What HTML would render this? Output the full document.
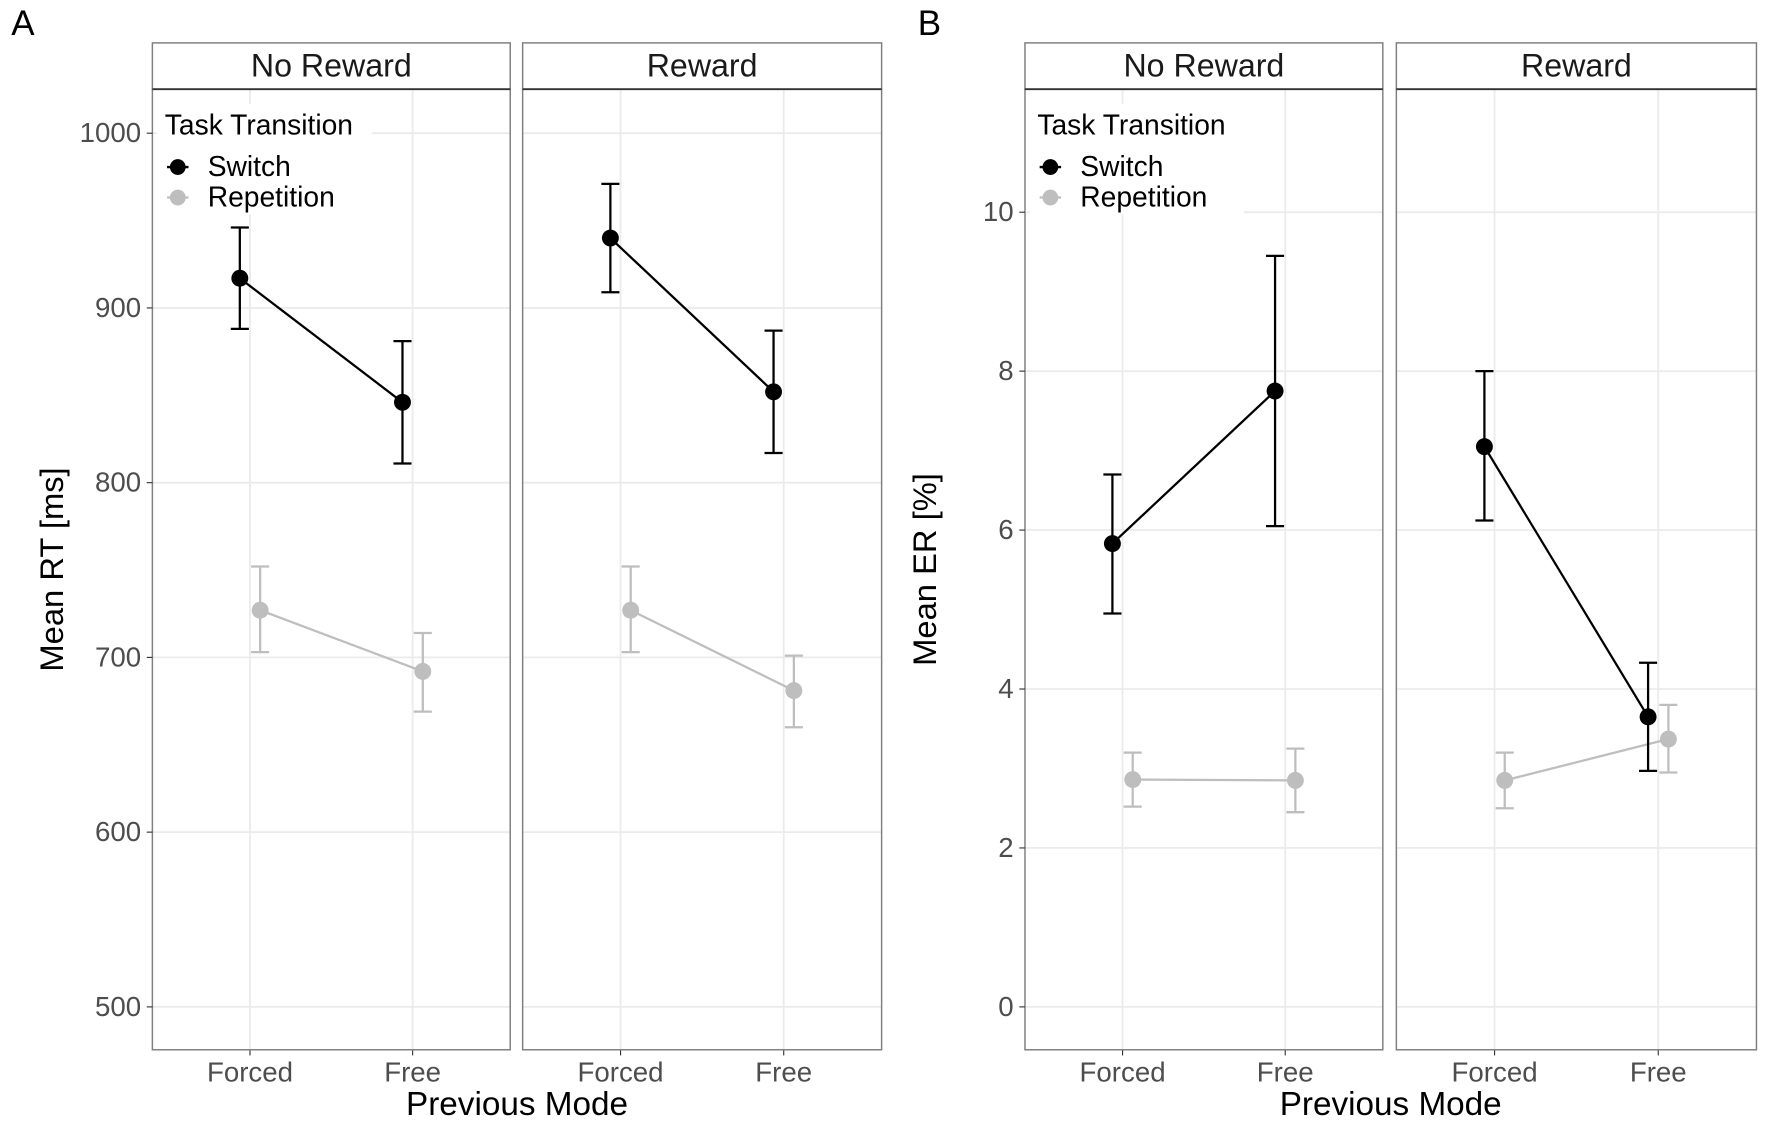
<!DOCTYPE html>
<html><head><meta charset="utf-8"><style>
html,body{margin:0;padding:0;background:#fff}
svg{display:block;font-family:"Liberation Sans",sans-serif}
</style></head><body>
<svg id="fig" width="1770" height="1128" viewBox="0 0 1568 999.3" preserveAspectRatio="none" xmlns="http://www.w3.org/2000/svg"></svg>
<script>
// ---- Data ----
const facets = ["No Reward", "Reward"];
const modes = ["Forced", "Free"];
const series = ["Switch", "Repetition"];
// RT (panel A): [facet][mode]
const rtSwitch = [[917, 846], [940, 852]];
const rtSwitchLo = [[888, 811], [909, 817]];
const rtSwitchHi = [[946, 881], [971, 887]];
const rtRep = [[727, 692], [727, 681]];
const rtRepLo = [[703, 669], [703, 660]];
const rtRepHi = [[752, 714], [752, 701]];
const rtTicks = [500, 600, 700, 800, 900, 1000];
// ER (panel B)
const erSwitch = [[5.83, 7.75], [7.05, 3.65]];
const erSwitchLo = [[4.95, 6.05], [6.12, 2.97]];
const erSwitchHi = [[6.70, 9.45], [8.00, 4.33]];
const erRep = [[2.86, 2.85], [2.85, 3.37]];
const erRepLo = [[2.52, 2.45], [2.50, 2.95]];
const erRepHi = [[3.20, 3.25], [3.20, 3.80]];
const erTicks = [0, 2, 4, 6, 8, 10];

const NS = "http://www.w3.org/2000/svg";
const svg = document.getElementById("fig");
function el(tag, attrs, parent, text) {
  const e = document.createElementNS(NS, tag);
  for (const k in attrs) e.setAttribute(k, attrs[k]);
  if (text !== undefined) e.textContent = text;
  (parent || svg).appendChild(e);
  return e;
}

function drawChart(cfg) {
  const g = el("g", {});
  
  
  const top = 79, bottom = 930, stripTop = 38;
  const y = v => cfg.y0 + (v - cfg.v0) * cfg.k;
  const t = el("text", {x: cfg.labelX, y: 31, "font-size": 31, fill: "#000"}, g, cfg.label);
  
  
  cfg.panels.forEach((px, fi) => {
    const w = px[1] - px[0];
    const xc = i => px[0] + w * (0.6 + i) / 2.2;
    cfg.ticks.forEach(tv => {
      const gl = el("line", {x1: px[0], x2: px[1], y1: y(tv), y2: y(tv), stroke: "#ebebeb", "stroke-width": 1.6}, g);
      
      
    });
    modes.forEach((m, i) => {
      const gl = el("line", {x1: xc(i), x2: xc(i), y1: top, y2: bottom, stroke: "#ebebeb", "stroke-width": 1.6}, g);
      
      
      const tl = el("text", {x: xc(i), y: 958, "font-size": 24.5, fill: "#4d4d4d", "text-anchor": "middle"}, g, m);
      
      
      const tk = el("line", {x1: xc(i), x2: xc(i), y1: bottom, y2: bottom + 5, stroke: "#333", "stroke-width": 1}, g);
      
      
    });
    if (fi === 0) {
      const lb = el("rect", {x: px[0] + 4, y: 92, width: cfg.legendW, height: 98, fill: "#fff"}, g);
      
      
      const lt = el("text", {x: px[0] + 11, y: 119, "font-size": 25, fill: "#000"}, g, "Task Transition");
      
      
      series.forEach((s, si) => {
        const yy = 148 + si * 27;
        const col = si === 0 ? "#000" : "#bebebe";
        const le = el("g", {}, g);
        
        
        el("line", {x1: px[0] + 13, x2: px[0] + 32, y1: yy, y2: yy, stroke: col, "stroke-width": 2}, le);
        el("circle", {cx: px[0] + 22.5, cy: yy, r: 7, fill: col}, le);
        el("text", {x: px[0] + 49, y: yy + 8, "font-size": 25, fill: "#000"}, le, s);
      });
    }
    const sets = [
      [cfg.rep, cfg.repLo, cfg.repHi, "#bebebe", 9, "repetition"],
      [cfg.sw, cfg.swLo, cfg.swHi, "#000", -9, "switch"]
    ];
    sets.forEach(([vals, lo, hi, col, dx, nm]) => {
      const sg = el("g", {}, g);
      
      
      const pts = vals[fi].map((v, i) => [xc(i) + dx, y(v)]);
      el("polyline", {points: pts.map(p => p.join(",")).join(" "), fill: "none", stroke: col, "stroke-width": 2}, sg);
      vals[fi].forEach((v, i) => {
        const x = xc(i) + dx;
        const eb = el("path", {d: `M${x-8},${y(hi[fi][i])}H${x+8}M${x},${y(hi[fi][i])}V${y(lo[fi][i])}M${x-8},${y(lo[fi][i])}H${x+8}`, stroke: col, "stroke-width": 2, fill: "none"}, sg);
        
        
        const c = el("circle", {cx: x, cy: y(v), r: 7.5, fill: col}, sg);
        
        
      });
    });
    const br = el("rect", {x: px[0], y: top, width: w, height: bottom - top, fill: "none", stroke: "#7f7f7f", "stroke-width": 1.3}, g);
    
    
    const sr = el("rect", {x: px[0], y: stripTop, width: w, height: top - stripTop, fill: "#fff", stroke: "#7f7f7f", "stroke-width": 1.3}, g);
    
    
    el("line", {x1: px[0], x2: px[1], y1: top, y2: top, stroke: "#333", "stroke-width": 1.6}, g);
    const st = el("text", {x: (px[0] + px[1]) / 2, y: 68, "font-size": 28.5, fill: "#1a1a1a", "text-anchor": "middle"}, g, facets[fi]);
    
    
  });
  const p0 = cfg.panels[0][0];
  cfg.ticks.forEach(tv => {
    const tl = el("text", {x: p0 - 10, y: y(tv) + 8, "font-size": 24.5, fill: "#4d4d4d", "text-anchor": "end"}, g, String(tv));
    
    
    el("line", {x1: p0 - 5, x2: p0, y1: y(tv), y2: y(tv), stroke: "#333", "stroke-width": 1}, g);
  });
  const yt = el("text", {transform: `translate(${p0 - 79},${(79 + 930) / 2}) rotate(-90)`, "font-size": 29, fill: "#000", "text-anchor": "middle"}, g, cfg.ytitle);
  
  
  const xt = el("text", {x: (cfg.panels[0][0] + cfg.panels[1][1]) / 2, y: 988, "font-size": 29.5, fill: "#000", "text-anchor": "middle"}, g, "Previous Mode");
  
  
}

drawChart({name: "chart-a-rt", label: "A", labelX: 10, panels: [[135, 452], [463, 781]],
  y0: 892, v0: 500, k: -1.548, ticks: rtTicks, ytitle: "Mean RT [ms]", legendW: 190,
  sw: rtSwitch, swLo: rtSwitchLo, swHi: rtSwitchHi, rep: rtRep, repLo: rtRepLo, repHi: rtRepHi});
drawChart({name: "chart-b-er", label: "B", labelX: 813, panels: [[908, 1225], [1237, 1556]],
  y0: 892, v0: 0, k: -70.4, ticks: erTicks, ytitle: "Mean ER [%]", legendW: 190,
  sw: erSwitch, swLo: erSwitchLo, swHi: erSwitchHi, rep: erRep, repLo: erRepLo, repHi: erRepHi});
</script>
</body></html>
